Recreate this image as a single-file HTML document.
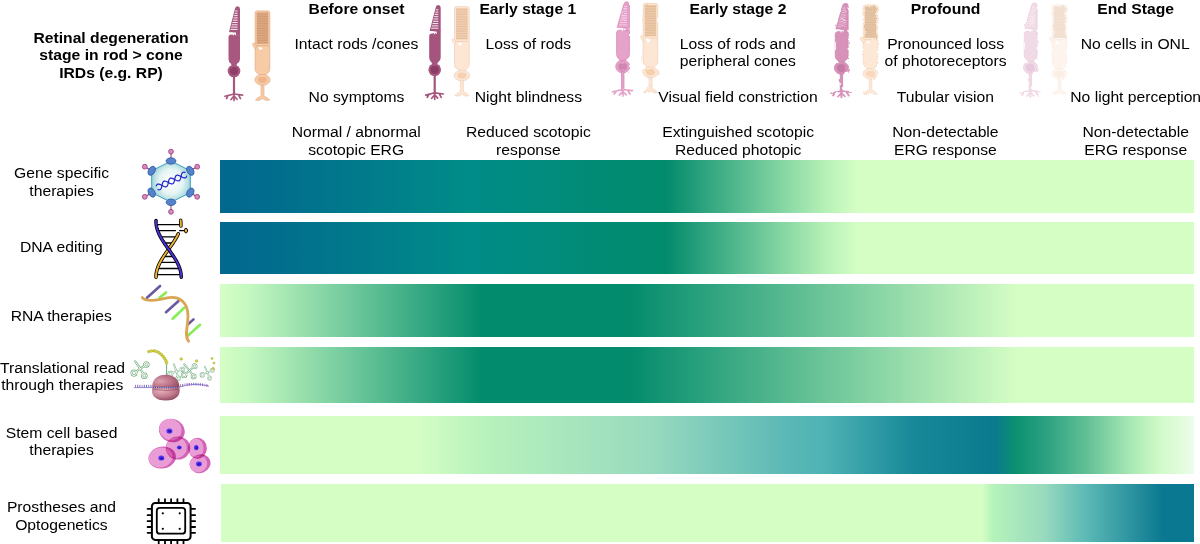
<!DOCTYPE html>
<html><head><meta charset="utf-8">
<style>
html,body{margin:0;padding:0;background:#fff;}
body{width:1200px;height:544px;position:relative;overflow:hidden;font-family:"Liberation Sans",sans-serif;color:#000;}
.t{position:absolute;width:240px;text-align:center;font-size:15.7px;line-height:18px;white-space:nowrap;transform:scaleY(0.96);transform-origin:50% 14px;}
.b{font-weight:bold;}
.bar{position:absolute;left:220px;width:973.5px;}
svg{position:absolute;overflow:visible;}
</style></head><body>
<div class="bar" style="top:160.3px;height:52.5px;background:linear-gradient(90deg,#02688e 0%,#026c8e 5%,#008c88 25.6%,#028b6c 45.8%,#b4f0b6 62%,#d5fec5 65.4%,#d5fec5 100%)"></div>
<div class="bar" style="top:222px;height:52px;background:linear-gradient(90deg,#02688e 0%,#026c8e 5%,#008c88 25.6%,#028b6c 45.8%,#b4f0b6 62%,#d5fec5 65.4%,#d5fec5 100%)"></div>
<div class="bar" style="top:284px;height:52.7px;background:linear-gradient(90deg,#d5fec5 0%,#c4f8c0 3%,#028b6c 27%,#028b6c 42%,#d5fec5 81.9%,#d5fec5 100%)"></div>
<div class="bar" style="top:346.6px;height:56.3px;background:linear-gradient(90deg,#d5fec5 0%,#c4f8c0 3%,#028b6c 27%,#028b6c 42%,#d5fec5 81.9%,#d5fec5 100%)"></div>
<div class="bar" style="top:416px;height:57.7px;background:linear-gradient(90deg,#d5fec5 0%,#d5fec5 20.2%,#b8f2bc 27%,#98dabe 44.2%,#5cb9b5 58%,#4eb2b4 62.1%,#168898 71.3%,#0a7a8e 79.6%,#0a9070 81.6%,#2ea282 85%,#62c096 89%,#a8e8b4 93.5%,#d0fac8 96.5%,#ecfdea 100%)"></div>
<div class="bar" style="top:483.5px;height:58px;left:220.8px;width:973px;background:linear-gradient(90deg,#d5fec5 0%,#d5fec5 78.2%,#b6f3ba 79.3%,#98dabe 84.6%,#5cb9b5 88.9%,#0a7890 96.8%,#0a7890 100%)"></div>

<svg width="1200" height="110" style="left:0;top:0" viewBox="0 0 1200 110">
<defs>
<filter id="w1" x="-20%" y="-5%" width="140%" height="110%"><feTurbulence type="fractalNoise" baseFrequency="0.18" numOctaves="1" seed="3"/><feDisplacementMap in="SourceGraphic" scale="1.8"/></filter>
<filter id="w2" x="-20%" y="-5%" width="140%" height="110%"><feTurbulence type="fractalNoise" baseFrequency="0.16" numOctaves="1" seed="5"/><feDisplacementMap in="SourceGraphic" scale="2.6"/></filter>
<filter id="w3" x="-30%" y="-5%" width="160%" height="110%"><feTurbulence type="fractalNoise" baseFrequency="0.22" numOctaves="2" seed="7"/><feDisplacementMap in="SourceGraphic" scale="3"/></filter>
</defs>
<g transform="translate(0,0)"><g transform="translate(234.5 0) scale(1 1) translate(-234.5 0)"><g fill="#a8577f" stroke="none" stroke-width="0.7">
<path d="M229.2,31.2 L235,8.6 Q235.6,6.3 237.6,6.3 Q240,6.4 240,9 L240,32.6 L229.6,32.6 Q228.8,32.4 229.2,31.2 Z"/>
<g stroke="#fff" stroke-width="0.9" opacity="1">
<path d="M235.28,11.0H237.6M234.69,13.3H237.6M234.10,15.6H237.6M233.51,17.9H237.6M232.92,20.2H237.6M232.33,22.5H237.6M231.74,24.8H237.6M231.15,27.1H237.6M230.56,29.4H237.6"/>
</g>
<rect x="236" y="32" width="4" height="3.6" stroke="none"/>
<path d="M228.5,37.6 Q228.5,34.6 231.2,34.6 Q233.2,34.8 234.2,33.8 L235.6,35.2 L240,35.2 L240,59 Q240,62 237.2,63.6 L236.2,65.8 L231.8,65.8 L230.8,63.6 Q228.5,62 228.5,59 Z"/>
<path d="M227.6,33.4 Q231.2,32 233.5,33.5 Q234.3,34.3 233.5,35.3" fill="none" stroke="#fff" stroke-width="1.1"/>
<circle cx="234" cy="71" r="6.3"/>
<circle cx="234" cy="71" r="4.1" fill="#8e3e68" stroke="none"/>
<rect x="232.9" y="76" width="2.2" height="19"/>
<g stroke="#a8577f" stroke-width="1.7" stroke-linecap="round" fill="none">
<path d="M234,94 L225,96.3 M228.5,95.2 L226.5,98.5 M234,94 L242.6,95.2 M238.5,94.8 L240.5,98.6 M234,94 L234,100.5 M234,96 L231,99.5 M234,96 L237,99.3"/>
</g></g></g></g>
<g transform="translate(0,0)"><g>
<rect x="255.1" y="10.9" width="14.7" height="35.2" rx="2" fill="#f8cba7" stroke="#e2aa82" stroke-width="0.7"/>
<rect x="256.7" y="12.4" width="11.5" height="31.4" fill="#dca780"/>
<path d="M256.6,14.0H268.3M256.6,16.4H268.3M256.6,18.8H268.3M256.6,21.2H268.3M256.6,23.6H268.3M256.6,26.0H268.3M256.6,28.4H268.3M256.6,30.8H268.3M256.6,33.2H268.3M256.6,35.6H268.3M256.6,38.0H268.3M256.6,40.4H268.3M256.6,42.8H268.3" stroke="#c38a62" stroke-width="0.7" opacity="0.6"/>
<path d="M255.1,45.7 L269.8,45.7 L269.8,69 Q269.8,72 267,73.6 L265.2,75.2 L259.8,75.2 L258,73.6 Q255.1,72 255.1,69 Z" fill="#f8cba7" stroke="#e2aa82" stroke-width="0.7"/>
<path d="M256,44.5 Q253.5,42.2 252.6,43.6 Q252.3,46.5 254.8,48.4 L256,49 Z" fill="#f8cba7" stroke="#e2aa82" stroke-width="0.5"/>
<path d="M258.6,47.2 Q260.5,46.6 262.6,48.2 Q261.2,50.4 259.4,49.4 Z" fill="#fff"/>
<path d="M261,84.5 L264,84.5 L264,96 Q268,97.5 269.6,100 Q266,101.6 262.5,98.6 Q259,101.6 255.4,100 Q257,97.5 261,96 Z" fill="#f8cba7" stroke="#e2aa82" stroke-width="0.6"/>
<ellipse cx="262.5" cy="79.8" rx="7.6" ry="5.4" fill="#f8cba7" stroke="#e2aa82" stroke-width="0.7"/>
<ellipse cx="262.5" cy="79.8" rx="4.6" ry="3.1" fill="#efb48c"/>
</g></g>
<g transform="translate(200.7,-1.2)"><g transform="translate(234.5 0) scale(1 1) translate(-234.5 0)"><g fill="#a5557d" stroke="none" stroke-width="0.7">
<path d="M229.2,31.2 L235,8.6 Q235.6,6.3 237.6,6.3 Q240,6.4 240,9 L240,32.6 L229.6,32.6 Q228.8,32.4 229.2,31.2 Z"/>
<g stroke="#fff" stroke-width="0.9" opacity="1">
<path d="M235.28,11.0H237.6M234.69,13.3H237.6M234.10,15.6H237.6M233.51,17.9H237.6M232.92,20.2H237.6M232.33,22.5H237.6M231.74,24.8H237.6M231.15,27.1H237.6M230.56,29.4H237.6"/>
</g>
<rect x="236" y="32" width="4" height="3.6" stroke="none"/>
<path d="M228.5,37.6 Q228.5,34.6 231.2,34.6 Q233.2,34.8 234.2,33.8 L235.6,35.2 L240,35.2 L240,59 Q240,62 237.2,63.6 L236.2,65.8 L231.8,65.8 L230.8,63.6 Q228.5,62 228.5,59 Z"/>
<path d="M227.6,33.4 Q231.2,32 233.5,33.5 Q234.3,34.3 233.5,35.3" fill="none" stroke="#fff" stroke-width="1.1"/>
<circle cx="234" cy="71" r="6.3"/>
<circle cx="234" cy="71" r="4.1" fill="#8a3c64" stroke="none"/>
<rect x="232.9" y="76" width="2.2" height="19"/>
<g stroke="#a5557d" stroke-width="1.7" stroke-linecap="round" fill="none">
<path d="M234,94 L225,96.3 M228.5,95.2 L226.5,98.5 M234,94 L242.6,95.2 M238.5,94.8 L240.5,98.6 M234,94 L234,100.5 M234,96 L231,99.5 M234,96 L237,99.3"/>
</g></g></g></g>
<g transform="translate(199.4,-4.3)" filter="url(#w1)"><g>
<rect x="255.1" y="10.9" width="14.7" height="35.2" rx="2" fill="#fde6d4" stroke="#efcfb6" stroke-width="0.7"/>
<rect x="256.7" y="12.4" width="11.5" height="31.4" fill="#efcdb0"/>
<path d="M256.6,14.0H268.3M256.6,16.4H268.3M256.6,18.8H268.3M256.6,21.2H268.3M256.6,23.6H268.3M256.6,26.0H268.3M256.6,28.4H268.3M256.6,30.8H268.3M256.6,33.2H268.3M256.6,35.6H268.3M256.6,38.0H268.3M256.6,40.4H268.3M256.6,42.8H268.3" stroke="#d8ae8a" stroke-width="0.7" opacity="0.6"/>
<path d="M255.1,45.7 L269.8,45.7 L269.8,69 Q269.8,72 267,73.6 L265.2,75.2 L259.8,75.2 L258,73.6 Q255.1,72 255.1,69 Z" fill="#fde6d4" stroke="#efcfb6" stroke-width="0.7"/>
<path d="M256,44.5 Q253.5,42.2 252.6,43.6 Q252.3,46.5 254.8,48.4 L256,49 Z" fill="#fde6d4" stroke="#efcfb6" stroke-width="0.5"/>
<path d="M258.6,47.2 Q260.5,46.6 262.6,48.2 Q261.2,50.4 259.4,49.4 Z" fill="#fff"/>
<path d="M261,84.5 L264,84.5 L264,96 Q268,97.5 269.6,100 Q266,101.6 262.5,98.6 Q259,101.6 255.4,100 Q257,97.5 261,96 Z" fill="#fde6d4" stroke="#efcfb6" stroke-width="0.6"/>
<ellipse cx="262.5" cy="79.8" rx="7.6" ry="5.4" fill="#fde6d4" stroke="#efcfb6" stroke-width="0.7"/>
<ellipse cx="262.5" cy="79.8" rx="4.6" ry="3.1" fill="#f6d0b0"/>
</g></g>
<g transform="translate(388.8,-4.5)" filter="url(#w2)"><g transform="translate(234.5 0) scale(1.12 1) translate(-234.5 0)"><g fill="#e6a2c9" stroke="#d888b8" stroke-width="0.7">
<path d="M229.2,31.2 L235,8.6 Q235.6,6.3 237.6,6.3 Q240,6.4 240,9 L240,32.6 L229.6,32.6 Q228.8,32.4 229.2,31.2 Z"/>
<g stroke="#fff" stroke-width="0.9" opacity="0.6">
<path d="M235.28,11.0H237.6M234.69,13.3H237.6M234.10,15.6H237.6M233.51,17.9H237.6M232.92,20.2H237.6M232.33,22.5H237.6M231.74,24.8H237.6M231.15,27.1H237.6M230.56,29.4H237.6"/>
</g>
<rect x="236" y="32" width="4" height="3.6" stroke="none"/>
<path d="M228.5,37.6 Q228.5,34.6 231.2,34.6 Q233.2,34.8 234.2,33.8 L235.6,35.2 L240,35.2 L240,59 Q240,62 237.2,63.6 L236.2,65.8 L231.8,65.8 L230.8,63.6 Q228.5,62 228.5,59 Z"/>
<path d="M227.6,33.4 Q231.2,32 233.5,33.5 Q234.3,34.3 233.5,35.3" fill="none" stroke="#fff" stroke-width="1.1"/>
<circle cx="234" cy="71" r="6.3"/>
<circle cx="234" cy="71" r="4.1" fill="#d286b2" stroke="none"/>
<rect x="232.9" y="76" width="2.2" height="19"/>
<g stroke="#e6a2c9" stroke-width="1.7" stroke-linecap="round" fill="none">
<path d="M234,94 L225,96.3 M228.5,95.2 L226.5,98.5 M234,94 L242.6,95.2 M238.5,94.8 L240.5,98.6 M234,94 L234,100.5 M234,96 L231,99.5 M234,96 L237,99.3"/>
</g></g></g></g>
<g transform="translate(388,-7.5)" filter="url(#w2)"><g>
<rect x="255.1" y="10.9" width="14.7" height="35.2" rx="2" fill="#fde6d4" stroke="#efcfb6" stroke-width="0.7"/>
<rect x="256.7" y="12.4" width="11.5" height="31.4" fill="#eccaa8"/>
<path d="M256.6,14.0H268.3M256.6,16.4H268.3M256.6,18.8H268.3M256.6,21.2H268.3M256.6,23.6H268.3M256.6,26.0H268.3M256.6,28.4H268.3M256.6,30.8H268.3M256.6,33.2H268.3M256.6,35.6H268.3M256.6,38.0H268.3M256.6,40.4H268.3M256.6,42.8H268.3" stroke="#d4a884" stroke-width="0.7" opacity="0.6"/>
<path d="M255.1,45.7 L269.8,45.7 L269.8,69 Q269.8,72 267,73.6 L265.2,75.2 L259.8,75.2 L258,73.6 Q255.1,72 255.1,69 Z" fill="#fde6d4" stroke="#efcfb6" stroke-width="0.7"/>
<path d="M256,44.5 Q253.5,42.2 252.6,43.6 Q252.3,46.5 254.8,48.4 L256,49 Z" fill="#fde6d4" stroke="#efcfb6" stroke-width="0.5"/>
<path d="M258.6,47.2 Q260.5,46.6 262.6,48.2 Q261.2,50.4 259.4,49.4 Z" fill="#fff"/>
<path d="M261,84.5 L264,84.5 L264,96 Q268,97.5 269.6,100 Q266,101.6 262.5,98.6 Q259,101.6 255.4,100 Q257,97.5 261,96 Z" fill="#fde6d4" stroke="#efcfb6" stroke-width="0.6"/>
<ellipse cx="262.5" cy="79.8" rx="7.6" ry="5.4" fill="#fde6d4" stroke="#efcfb6" stroke-width="0.7"/>
<ellipse cx="262.5" cy="79.8" rx="4.6" ry="3.1" fill="#f6cfae"/>
</g></g>
<g transform="translate(607.5,-3)" filter="url(#w3)"><g transform="translate(234.5 0) scale(1.12 1) translate(-234.5 0)"><g fill="#d892ba" stroke="#cc86ae" stroke-width="0.7">
<path d="M229.2,31.2 L235,8.6 Q235.6,6.3 237.6,6.3 Q240,6.4 240,9 L240,32.6 L229.6,32.6 Q228.8,32.4 229.2,31.2 Z"/>
<g stroke="#fff" stroke-width="0.9" opacity="0.5">
<path d="M235.28,11.0H237.6M234.69,13.3H237.6M234.10,15.6H237.6M233.51,17.9H237.6M232.92,20.2H237.6M232.33,22.5H237.6M231.74,24.8H237.6M231.15,27.1H237.6M230.56,29.4H237.6"/>
</g>
<rect x="236" y="32" width="4" height="3.6" stroke="none"/>
<path d="M228.5,37.6 Q228.5,34.6 231.2,34.6 Q233.2,34.8 234.2,33.8 L235.6,35.2 L240,35.2 L240,59 Q240,62 237.2,63.6 L236.2,65.8 L231.8,65.8 L230.8,63.6 Q228.5,62 228.5,59 Z"/>
<path d="M227.6,33.4 Q231.2,32 233.5,33.5 Q234.3,34.3 233.5,35.3" fill="none" stroke="#fff" stroke-width="1.1"/>
<circle cx="234" cy="71" r="6.3"/>
<circle cx="234" cy="71" r="4.1" fill="#c47ca6" stroke="none"/>
<rect x="232.9" y="76" width="2.2" height="19"/>
<g stroke="#d892ba" stroke-width="1.7" stroke-linecap="round" fill="none">
<path d="M234,94 L225,96.3 M228.5,95.2 L226.5,98.5 M234,94 L242.6,95.2 M238.5,94.8 L240.5,98.6 M234,94 L234,100.5 M234,96 L231,99.5 M234,96 L237,99.3"/>
</g></g></g></g>
<g transform="translate(608,-6)" filter="url(#w3)"><g>
<rect x="255.1" y="10.9" width="14.7" height="35.2" rx="2" fill="#fde8d6" stroke="#e6c0a2" stroke-width="0.7" stroke-dasharray="1 1.2"/>
<rect x="256.7" y="12.4" width="11.5" height="31.4" fill="#e6c6a6"/>
<path d="M256.6,14.0H268.3M256.6,16.4H268.3M256.6,18.8H268.3M256.6,21.2H268.3M256.6,23.6H268.3M256.6,26.0H268.3M256.6,28.4H268.3M256.6,30.8H268.3M256.6,33.2H268.3M256.6,35.6H268.3M256.6,38.0H268.3M256.6,40.4H268.3M256.6,42.8H268.3" stroke="#d0aa88" stroke-width="0.7" opacity="0.6"/>
<path d="M255.1,45.7 L269.8,45.7 L269.8,69 Q269.8,72 267,73.6 L265.2,75.2 L259.8,75.2 L258,73.6 Q255.1,72 255.1,69 Z" fill="#fde8d6" stroke="#e6c0a2" stroke-width="0.7" stroke-dasharray="1 1.2"/>
<path d="M256,44.5 Q253.5,42.2 252.6,43.6 Q252.3,46.5 254.8,48.4 L256,49 Z" fill="#fde8d6" stroke="#e6c0a2" stroke-width="0.5"/>
<path d="M258.6,47.2 Q260.5,46.6 262.6,48.2 Q261.2,50.4 259.4,49.4 Z" fill="#fff"/>
<path d="M261,84.5 L264,84.5 L264,96 Q268,97.5 269.6,100 Q266,101.6 262.5,98.6 Q259,101.6 255.4,100 Q257,97.5 261,96 Z" fill="#fde8d6" stroke="#e6c0a2" stroke-width="0.6" stroke-dasharray="1 1.2"/>
<ellipse cx="262.5" cy="79.8" rx="7.6" ry="5.4" fill="#fde8d6" stroke="#e6c0a2" stroke-width="0.7" stroke-dasharray="1 1.2"/>
<ellipse cx="262.5" cy="79.8" rx="4.6" ry="3.1" fill="#f8d8bc"/>
</g></g>
<g transform="translate(796.5,-3.5)" filter="url(#w3)"><g transform="translate(234.5 0) scale(1.12 1) translate(-234.5 0)"><g fill="#f0dae6" stroke="#ecd0e0" stroke-width="0.7">
<path d="M229.2,31.2 L235,8.6 Q235.6,6.3 237.6,6.3 Q240,6.4 240,9 L240,32.6 L229.6,32.6 Q228.8,32.4 229.2,31.2 Z"/>
<g stroke="#fff" stroke-width="0.9" opacity="0.5">
<path d="M235.28,11.0H237.6M234.69,13.3H237.6M234.10,15.6H237.6M233.51,17.9H237.6M232.92,20.2H237.6M232.33,22.5H237.6M231.74,24.8H237.6M231.15,27.1H237.6M230.56,29.4H237.6"/>
</g>
<rect x="236" y="32" width="4" height="3.6" stroke="none"/>
<path d="M228.5,37.6 Q228.5,34.6 231.2,34.6 Q233.2,34.8 234.2,33.8 L235.6,35.2 L240,35.2 L240,59 Q240,62 237.2,63.6 L236.2,65.8 L231.8,65.8 L230.8,63.6 Q228.5,62 228.5,59 Z"/>
<path d="M227.6,33.4 Q231.2,32 233.5,33.5 Q234.3,34.3 233.5,35.3" fill="none" stroke="#fff" stroke-width="1.1"/>
<circle cx="234" cy="71" r="6.3"/>
<circle cx="234" cy="71" r="4.1" fill="#e6cadb" stroke="none"/>
<rect x="232.9" y="76" width="2.2" height="19"/>
<g stroke="#f0dae6" stroke-width="1.7" stroke-linecap="round" fill="none">
<path d="M234,94 L225,96.3 M228.5,95.2 L226.5,98.5 M234,94 L242.6,95.2 M238.5,94.8 L240.5,98.6 M234,94 L234,100.5 M234,96 L231,99.5 M234,96 L237,99.3"/>
</g></g></g></g>
<g transform="translate(797,-6)" filter="url(#w3)"><g>
<rect x="255.1" y="10.9" width="14.7" height="35.2" rx="2" fill="#fdf4ee" stroke="#f6e4d8" stroke-width="0.7" stroke-dasharray="1 1.2"/>
<rect x="256.7" y="12.4" width="11.5" height="31.4" fill="#f4e2d2"/>
<path d="M256.6,14.0H268.3M256.6,16.4H268.3M256.6,18.8H268.3M256.6,21.2H268.3M256.6,23.6H268.3M256.6,26.0H268.3M256.6,28.4H268.3M256.6,30.8H268.3M256.6,33.2H268.3M256.6,35.6H268.3M256.6,38.0H268.3M256.6,40.4H268.3M256.6,42.8H268.3" stroke="#ecd6c4" stroke-width="0.7" opacity="0.6"/>
<path d="M255.1,45.7 L269.8,45.7 L269.8,69 Q269.8,72 267,73.6 L265.2,75.2 L259.8,75.2 L258,73.6 Q255.1,72 255.1,69 Z" fill="#fdf4ee" stroke="#f6e4d8" stroke-width="0.7" stroke-dasharray="1 1.2"/>
<path d="M256,44.5 Q253.5,42.2 252.6,43.6 Q252.3,46.5 254.8,48.4 L256,49 Z" fill="#fdf4ee" stroke="#f6e4d8" stroke-width="0.5"/>
<path d="M258.6,47.2 Q260.5,46.6 262.6,48.2 Q261.2,50.4 259.4,49.4 Z" fill="#fff"/>
<path d="M261,84.5 L264,84.5 L264,96 Q268,97.5 269.6,100 Q266,101.6 262.5,98.6 Q259,101.6 255.4,100 Q257,97.5 261,96 Z" fill="#fdf4ee" stroke="#f6e4d8" stroke-width="0.6" stroke-dasharray="1 1.2"/>
<ellipse cx="262.5" cy="79.8" rx="7.6" ry="5.4" fill="#fdf4ee" stroke="#f6e4d8" stroke-width="0.7" stroke-dasharray="1 1.2"/>
<ellipse cx="262.5" cy="79.8" rx="4.6" ry="3.1" fill="#fbefe4"/>
</g></g>
</svg><svg width="1200" height="544" style="left:0;top:0" viewBox="0 0 1200 544">
<defs>
<radialGradient id="cap" cx="50%" cy="50%" r="55%"><stop offset="0" stop-color="#ffffff"/><stop offset="0.55" stop-color="#e6f4f4"/><stop offset="1" stop-color="#8fcfd6"/></radialGradient>
<radialGradient id="ribo" cx="30%" cy="50%" r="80%"><stop offset="0" stop-color="#dca2b2"/><stop offset="0.5" stop-color="#be7488"/><stop offset="1" stop-color="#8e4660"/></radialGradient>
<radialGradient id="ribo2" cx="35%" cy="25%" r="80%"><stop offset="0" stop-color="#e4b0bc"/><stop offset="0.55" stop-color="#c47e90"/><stop offset="1" stop-color="#8c4660"/></radialGradient>
</defs>
<!-- gene specific: capsid -->
<g>
<g stroke="#a0407c" stroke-width="1.1">
<line x1="171" y1="161" x2="171" y2="152"/><line x1="171" y1="202" x2="171" y2="211"/>
<line x1="190" y1="171" x2="196.5" y2="167"/><line x1="190" y1="192.5" x2="196.5" y2="196.5"/>
<line x1="152" y1="171" x2="145.5" y2="167"/><line x1="152" y1="192.5" x2="145.5" y2="196.5"/>
</g>
<g fill="#d48cc4" stroke="#a0407c" stroke-width="0.9">
<circle cx="171" cy="151.6" r="2.4"/><circle cx="171" cy="211.8" r="2.4"/>
<circle cx="197.2" cy="166.7" r="2.4"/><circle cx="197.2" cy="196.8" r="2.4"/>
<circle cx="144.8" cy="166.7" r="2.4"/><circle cx="144.8" cy="196.8" r="2.4"/>
</g>
<path d="M171,161 L190.3,170.8 L190.3,192.6 L171,202.3 L151.7,192.6 L151.7,170.8 Z" fill="url(#cap)" stroke="#2a96b4" stroke-width="0.9"/>
<g fill="#5582c8" stroke="#2a58a4" stroke-width="0.8">
<ellipse cx="171" cy="161" rx="4.9" ry="3.2"/><ellipse cx="171" cy="202.3" rx="4.9" ry="3.2"/>
<ellipse cx="190.3" cy="170.8" rx="4.9" ry="3.2" transform="rotate(60 190.3 170.8)"/>
<ellipse cx="190.3" cy="192.6" rx="4.9" ry="3.2" transform="rotate(-60 190.3 192.6)"/>
<ellipse cx="151.7" cy="170.8" rx="4.9" ry="3.2" transform="rotate(-60 151.7 170.8)"/>
<ellipse cx="151.7" cy="192.6" rx="4.9" ry="3.2" transform="rotate(60 151.7 192.6)"/>
</g>
<g fill="none" stroke="#2222cc" stroke-width="1.2" transform="translate(171.5 181) rotate(-25)">
<path d="M-16.20,-1.65 L-15.75,-2.12 L-15.30,-2.50 L-14.85,-2.78 L-14.40,-2.95 L-13.95,-3.00 L-13.50,-2.92 L-13.05,-2.73 L-12.60,-2.43 L-12.15,-2.02 L-11.70,-1.54 L-11.25,-0.99 L-10.80,-0.40 L-10.35,0.20 L-9.90,0.80 L-9.45,1.36 L-9.00,1.87 L-8.55,2.30 L-8.10,2.64 L-7.65,2.87 L-7.20,2.99 L-6.75,2.98 L-6.30,2.85 L-5.85,2.61 L-5.40,2.26 L-4.95,1.82 L-4.50,1.30 L-4.05,0.73 L-3.60,0.13 L-3.15,-0.47 L-2.70,-1.05 L-2.25,-1.60 L-1.80,-2.07 L-1.35,-2.47 L-0.90,-2.76 L-0.45,-2.94 L0.00,-3.00 L0.45,-2.94 L0.90,-2.76 L1.35,-2.47 L1.80,-2.07 L2.25,-1.60 L2.70,-1.05 L3.15,-0.47 L3.60,0.13 L4.05,0.73 L4.50,1.30 L4.95,1.82 L5.40,2.26 L5.85,2.61 L6.30,2.85 L6.75,2.98 L7.20,2.99 L7.65,2.87 L8.10,2.64 L8.55,2.30 L9.00,1.87 L9.45,1.36 L9.90,0.80 L10.35,0.20 L10.80,-0.40 L11.25,-0.99 L11.70,-1.54 L12.15,-2.02 L12.60,-2.43 L13.05,-2.73 L13.50,-2.92 L13.95,-3.00 L14.40,-2.95 L14.85,-2.78 L15.30,-2.50 L15.75,-2.12 L16.20,-1.65"/>
<path d="M-16.20,1.65 L-15.75,2.12 L-15.30,2.50 L-14.85,2.78 L-14.40,2.95 L-13.95,3.00 L-13.50,2.92 L-13.05,2.73 L-12.60,2.43 L-12.15,2.02 L-11.70,1.54 L-11.25,0.99 L-10.80,0.40 L-10.35,-0.20 L-9.90,-0.80 L-9.45,-1.36 L-9.00,-1.87 L-8.55,-2.30 L-8.10,-2.64 L-7.65,-2.87 L-7.20,-2.99 L-6.75,-2.98 L-6.30,-2.85 L-5.85,-2.61 L-5.40,-2.26 L-4.95,-1.82 L-4.50,-1.30 L-4.05,-0.73 L-3.60,-0.13 L-3.15,0.47 L-2.70,1.05 L-2.25,1.60 L-1.80,2.07 L-1.35,2.47 L-0.90,2.76 L-0.45,2.94 L0.00,3.00 L0.45,2.94 L0.90,2.76 L1.35,2.47 L1.80,2.07 L2.25,1.60 L2.70,1.05 L3.15,0.47 L3.60,-0.13 L4.05,-0.73 L4.50,-1.30 L4.95,-1.82 L5.40,-2.26 L5.85,-2.61 L6.30,-2.85 L6.75,-2.98 L7.20,-2.99 L7.65,-2.87 L8.10,-2.64 L8.55,-2.30 L9.00,-1.87 L9.45,-1.36 L9.90,-0.80 L10.35,-0.20 L10.80,0.40 L11.25,0.99 L11.70,1.54 L12.15,2.02 L12.60,2.43 L13.05,2.73 L13.50,2.92 L13.95,3.00 L14.40,2.95 L14.85,2.78 L15.30,2.50 L15.75,2.12 L16.20,1.65"/>
</g>
</g>
<!-- DNA editing -->
<g stroke-linecap="round" fill="none">
<path d="M156.2,224.6H181.0M157.6,230.6H175.5M179.5,230.6H184.5M160.4,236.8H176.8M164.2,243.0H173.0M163.6,256.5H173.6M160.1,262.4H177.1M157.4,268.5H179.8M156.1,274.6H181.1" stroke="#000" stroke-width="1.3"/>
<path d="M156.00,277.20 L156.02,276.12 L156.08,275.03 L156.19,273.94 L156.34,272.86 L156.55,271.77 L156.80,270.69 L157.09,269.61 L157.42,268.52 L157.80,267.44 L158.22,266.35 L158.68,265.26 L159.17,264.18 L159.71,263.09 L160.27,262.01 L160.87,260.93 L161.49,259.84 L162.14,258.75 L162.82,257.67 L163.52,256.58 L164.23,255.50 L164.97,254.41 L165.72,253.33 L166.47,252.25 L167.24,251.16 L168.01,250.07 L168.79,248.99 L169.56,247.91 L170.33,246.82 L171.09,245.74 L171.84,244.65 L172.59,243.56 L173.31,242.48 L174.02,241.40 L174.71,240.31 L175.37,239.23 L176.01,238.14 L176.62,237.06 L177.20,235.97 L177.75,234.89 L178.27,233.80" stroke="#000" stroke-width="3.5"/>
<path d="M156.00,277.20 L156.02,276.12 L156.08,275.03 L156.19,273.94 L156.34,272.86 L156.55,271.77 L156.80,270.69 L157.09,269.61 L157.42,268.52 L157.80,267.44 L158.22,266.35 L158.68,265.26 L159.17,264.18 L159.71,263.09 L160.27,262.01 L160.87,260.93 L161.49,259.84 L162.14,258.75 L162.82,257.67 L163.52,256.58 L164.23,255.50 L164.97,254.41 L165.72,253.33 L166.47,252.25 L167.24,251.16 L168.01,250.07 L168.79,248.99 L169.56,247.91 L170.33,246.82 L171.09,245.74 L171.84,244.65 L172.59,243.56 L173.31,242.48 L174.02,241.40 L174.71,240.31 L175.37,239.23 L176.01,238.14 L176.62,237.06 L177.20,235.97 L177.75,234.89 L178.27,233.80" stroke="#f2b430" stroke-width="1.9"/>
<path d="M156.02,220.60 L156.01,222.01 L156.08,223.43 L156.23,224.84 L156.45,226.26 L156.76,227.67 L157.15,229.09 L157.60,230.50 L158.13,231.92 L158.72,233.33 L159.38,234.75 L160.10,236.16 L160.87,237.58 L161.69,239.00 L162.55,240.41 L163.46,241.82 L164.40,243.24 L165.36,244.66 L166.34,246.07 L167.34,247.48 L168.35,248.90 L169.36,250.31 L170.36,251.73 L171.36,253.14 L172.33,254.56 L173.28,255.97 L174.20,257.39 L175.09,258.81 L175.93,260.22 L176.73,261.63 L177.47,263.05 L178.16,264.46 L178.79,265.88 L179.35,267.29 L179.84,268.71 L180.26,270.12 L180.60,271.54 L180.87,272.95 L181.06,274.37 L181.17,275.78 L181.20,277.20" stroke="#000" stroke-width="3.5"/>
<path d="M156.02,220.60 L156.01,222.01 L156.08,223.43 L156.23,224.84 L156.45,226.26 L156.76,227.67 L157.15,229.09 L157.60,230.50 L158.13,231.92 L158.72,233.33 L159.38,234.75 L160.10,236.16 L160.87,237.58 L161.69,239.00 L162.55,240.41 L163.46,241.82 L164.40,243.24 L165.36,244.66 L166.34,246.07 L167.34,247.48 L168.35,248.90 L169.36,250.31 L170.36,251.73 L171.36,253.14 L172.33,254.56 L173.28,255.97 L174.20,257.39 L175.09,258.81 L175.93,260.22 L176.73,261.63 L177.47,263.05 L178.16,264.46 L178.79,265.88 L179.35,267.29 L179.84,268.71 L180.26,270.12 L180.60,271.54 L180.87,272.95 L181.06,274.37 L181.17,275.78 L181.20,277.20" stroke="#4a30dc" stroke-width="1.9"/>
<path d="M180.7,220.2 L180.9,226" stroke="#000" stroke-width="3.5"/>
<path d="M180.7,220.2 L180.9,226" stroke="#f2b430" stroke-width="1.9"/>
<ellipse cx="186" cy="230.6" rx="1.6" ry="2.4" fill="#f2b430" stroke="#000" stroke-width="0.9"/>
</g>
<!-- RNA -->
<g stroke-linecap="round" fill="none">
<g stroke="#6a58a2" stroke-width="2.6">
<line x1="147" y1="297.8" x2="160.1" y2="286"/><line x1="166" y1="312.2" x2="178.5" y2="301"/><line x1="187.5" y1="324.8" x2="193.5" y2="319.4"/>
</g>
<g stroke="#84ee54" stroke-width="2.6">
<line x1="159.5" y1="297.7" x2="166" y2="292.4"/><line x1="172.6" y1="318.8" x2="184" y2="308"/><line x1="188.1" y1="335.5" x2="200.1" y2="324.8"/>
</g>
<path d="M142.3,297.6 C146,302 158,300.5 166,298.2 C178,295 188,301 188,316 C188,327 184,336 188.6,341.3" stroke="#d8a654" stroke-width="2.8"/>
</g>
<!-- translational -->
<g>
<g transform="translate(140.3,368.7) rotate(0) scale(0.95)"><path d="M0,0L-5.45,-7.78M0,0L4.51,-3.15M8.69,-4.47a2.3,2.3 0 1 0 -4.60,0a2.3,2.3 0 1 0 4.60,0M0,0L-4.51,3.15M-4.04,4.65a2.6,2.6 0 1 0 -5.20,0a2.6,2.6 0 1 0 5.20,0M0,0L3.10,5.37M6.55,7.36a2.3,2.3 0 1 0 -4.60,0a2.3,2.3 0 1 0 4.60,0" fill="none" stroke="#6aa878" stroke-width="2.2" stroke-linecap="round"/><path d="M0,0L-5.45,-7.78M0,0L4.51,-3.15M8.69,-4.47a2.3,2.3 0 1 0 -4.60,0a2.3,2.3 0 1 0 4.60,0M0,0L-4.51,3.15M-4.04,4.65a2.6,2.6 0 1 0 -5.20,0a2.6,2.6 0 1 0 5.20,0M0,0L3.10,5.37M6.55,7.36a2.3,2.3 0 1 0 -4.60,0a2.3,2.3 0 1 0 4.60,0" fill="none" stroke="#fff" stroke-width="1.0" stroke-linecap="round"/></g>
<g transform="translate(176.5,371.5) rotate(15) scale(0.8)"><path d="M0,0L-5.45,-7.78M0,0L4.51,-3.15M8.69,-4.47a2.3,2.3 0 1 0 -4.60,0a2.3,2.3 0 1 0 4.60,0M0,0L-4.51,3.15M-4.04,4.65a2.6,2.6 0 1 0 -5.20,0a2.6,2.6 0 1 0 5.20,0M0,0L3.10,5.37M6.55,7.36a2.3,2.3 0 1 0 -4.60,0a2.3,2.3 0 1 0 4.60,0" fill="none" stroke="#6aa878" stroke-width="2.2" stroke-linecap="round"/><path d="M0,0L-5.45,-7.78M0,0L4.51,-3.15M8.69,-4.47a2.3,2.3 0 1 0 -4.60,0a2.3,2.3 0 1 0 4.60,0M0,0L-4.51,3.15M-4.04,4.65a2.6,2.6 0 1 0 -5.20,0a2.6,2.6 0 1 0 5.20,0M0,0L3.10,5.37M6.55,7.36a2.3,2.3 0 1 0 -4.60,0a2.3,2.3 0 1 0 4.60,0" fill="none" stroke="#fff" stroke-width="1.0" stroke-linecap="round"/></g>
<g transform="translate(189.5,370.5) rotate(-5) scale(0.85)"><path d="M0,0L-5.45,-7.78M0,0L4.51,-3.15M8.69,-4.47a2.3,2.3 0 1 0 -4.60,0a2.3,2.3 0 1 0 4.60,0M0,0L-4.51,3.15M-4.04,4.65a2.6,2.6 0 1 0 -5.20,0a2.6,2.6 0 1 0 5.20,0M0,0L3.10,5.37M6.55,7.36a2.3,2.3 0 1 0 -4.60,0a2.3,2.3 0 1 0 4.60,0" fill="none" stroke="#6aa878" stroke-width="2.2" stroke-linecap="round"/><path d="M0,0L-5.45,-7.78M0,0L4.51,-3.15M8.69,-4.47a2.3,2.3 0 1 0 -4.60,0a2.3,2.3 0 1 0 4.60,0M0,0L-4.51,3.15M-4.04,4.65a2.6,2.6 0 1 0 -5.20,0a2.6,2.6 0 1 0 5.20,0M0,0L3.10,5.37M6.55,7.36a2.3,2.3 0 1 0 -4.60,0a2.3,2.3 0 1 0 4.60,0" fill="none" stroke="#fff" stroke-width="1.0" stroke-linecap="round"/></g>
<g transform="translate(207.5,372.5) rotate(10) scale(0.7)"><path d="M0,0L-5.45,-7.78M0,0L4.51,-3.15M8.69,-4.47a2.3,2.3 0 1 0 -4.60,0a2.3,2.3 0 1 0 4.60,0M0,0L-4.51,3.15M-4.04,4.65a2.6,2.6 0 1 0 -5.20,0a2.6,2.6 0 1 0 5.20,0M0,0L3.10,5.37M6.55,7.36a2.3,2.3 0 1 0 -4.60,0a2.3,2.3 0 1 0 4.60,0" fill="none" stroke="#6aa878" stroke-width="2.2" stroke-linecap="round"/><path d="M0,0L-5.45,-7.78M0,0L4.51,-3.15M8.69,-4.47a2.3,2.3 0 1 0 -4.60,0a2.3,2.3 0 1 0 4.60,0M0,0L-4.51,3.15M-4.04,4.65a2.6,2.6 0 1 0 -5.20,0a2.6,2.6 0 1 0 5.20,0M0,0L3.10,5.37M6.55,7.36a2.3,2.3 0 1 0 -4.60,0a2.3,2.3 0 1 0 4.60,0" fill="none" stroke="#fff" stroke-width="1.0" stroke-linecap="round"/></g>
<path d="M166.6,363 L166.6,376" stroke="#6aa878" stroke-width="1"/>
<g fill="#dcd83c" stroke="#9a9818" stroke-width="0.45"><circle cx="148.8" cy="351.6" r="1.35"/><circle cx="151.4" cy="351" r="1.35"/><circle cx="154" cy="350.9" r="1.35"/><circle cx="156.6" cy="351.6" r="1.35"/><circle cx="159" cy="352.8" r="1.35"/><circle cx="161.2" cy="354.4" r="1.35"/><circle cx="163" cy="356.3" r="1.35"/><circle cx="164.5" cy="358.4" r="1.35"/><circle cx="165.8" cy="360.6" r="1.35"/><circle cx="166.6" cy="362.8" r="1.35"/><circle cx="181.2" cy="359" r="1.3"/><circle cx="196.6" cy="361" r="1.3"/><circle cx="212" cy="358.4" r="1"/><circle cx="214" cy="363" r="1"/><circle cx="213.2" cy="368.5" r="1.1"/></g>
<path d="M134,387.6 L152,387.6" fill="none" stroke="#8a7ac8" stroke-width="0.9"/>
<path d="M179,387.2 Q194,382 209,386.2" fill="none" stroke="#8a7ac8" stroke-width="0.9"/>
<g stroke-width="1"><path d="M135.5,384.8v2.6" stroke="#c070a8"/><path d="M137.7,384.8v2.6" stroke="#8070c8"/><path d="M139.9,384.8v2.6" stroke="#6a80d0"/><path d="M142.1,384.8v2.6" stroke="#c888b8"/><path d="M144.3,384.8v2.6" stroke="#7060c0"/><path d="M146.5,384.8v2.6" stroke="#5a7ad0"/><path d="M148.7,384.8v2.6" stroke="#c070a8"/><path d="M150.9,384.8v2.6" stroke="#7868c8"/><path d="M180.5,384.32v2.6" stroke="#d070a0"/><path d="M182.7,383.92v2.6" stroke="#6a70c8"/><path d="M184.9,383.56v2.6" stroke="#c888b8"/><path d="M187.1,383.25v2.6" stroke="#5a6ad0"/><path d="M189.3,383.01v2.6" stroke="#7060c0"/><path d="M191.5,382.86v2.6" stroke="#c070a8"/><path d="M193.7,382.80v2.6" stroke="#5a7ad0"/><path d="M195.9,382.84v2.6" stroke="#7868c8"/><path d="M198.1,382.96v2.6" stroke="#c070a8"/><path d="M200.3,383.18v2.6" stroke="#6a70c8"/><path d="M202.5,383.47v2.6" stroke="#8070c8"/><path d="M204.7,383.82v2.6" stroke="#c888b8"/><path d="M206.9,384.21v2.6" stroke="#7060c0"/></g>
<path d="M152.3,387.5 C151.8,379.5 157.5,374.8 165.8,374.8 C174,374.8 179.6,380 179.4,387.5 Z" fill="url(#ribo)"/>
<path d="M152.3,387.5 C150.5,395.5 155.5,400.6 165.8,400.6 C176,400.6 181,395.5 179.4,387.5 Z" fill="url(#ribo2)"/>
<path d="M152.6,387.6 H179.2" stroke="#4058b0" stroke-width="1.5" stroke-dasharray="1.2 1"/>
<path d="M153,389.2 Q166,392 179,389.2" fill="none" stroke="#9a4860" stroke-width="1" opacity="0.6"/>
</g>
<!-- stem cells -->
<g>
<g style="mix-blend-mode:multiply" transform="rotate(25 171.8 430.5)"><ellipse cx="171.8" cy="430.5" rx="13.2" ry="11.5" fill="#d464b6"/><ellipse cx="170.2" cy="430.2" rx="11.4" ry="10.5" fill="#ea9cd6"/></g>
<g style="mix-blend-mode:multiply" transform="rotate(-10 162.2 457.6)"><ellipse cx="162.2" cy="457.6" rx="13.8" ry="10.9" fill="#d464b6"/><ellipse cx="160.6" cy="457.3" rx="12.0" ry="9.9" fill="#ea9cd6"/></g>
<g style="mix-blend-mode:multiply" transform="rotate(-20 200.1 463.7)"><ellipse cx="200.1" cy="463.7" rx="10.6" ry="9.3" fill="#d464b6"/><ellipse cx="198.5" cy="463.4" rx="8.8" ry="8.3" fill="#ea9cd6"/></g>
<g style="mix-blend-mode:multiply" transform="rotate(0 197.5 448.3)"><ellipse cx="197.5" cy="448.3" rx="9.4" ry="10.6" fill="#d464b6"/><ellipse cx="195.9" cy="448.0" rx="7.6" ry="9.6" fill="#ea9cd6"/></g>
<g style="mix-blend-mode:multiply" transform="rotate(0 178.0 448.0)"><ellipse cx="178.0" cy="448.0" rx="12.2" ry="11.5" fill="#d464b6"/><ellipse cx="176.4" cy="447.7" rx="10.4" ry="10.5" fill="#ea9cd6"/></g>
<ellipse cx="169.4" cy="431.0" rx="3.0" ry="2.6" fill="#5034f0"/><ellipse cx="169.7" cy="431.3" rx="1.65" ry="1.30" fill="#2c10c0"/>
<ellipse cx="161.3" cy="458.1" rx="3.0" ry="2.5" fill="#5034f0"/><ellipse cx="161.6" cy="458.4" rx="1.65" ry="1.25" fill="#2c10c0"/>
<ellipse cx="198.9" cy="464.0" rx="2.9" ry="2.4" fill="#5034f0"/><ellipse cx="199.2" cy="464.3" rx="1.59" ry="1.20" fill="#2c10c0"/>
<ellipse cx="196.3" cy="447.6" rx="2.3" ry="2.7" fill="#5034f0"/><ellipse cx="196.6" cy="447.9" rx="1.26" ry="1.35" fill="#2c10c0"/>
<ellipse cx="179.3" cy="447.5" rx="2.4" ry="2.1" fill="#5034f0"/><ellipse cx="179.6" cy="447.8" rx="1.32" ry="1.05" fill="#2c10c0"/>
</g>
<!-- chip -->
<g fill="none" stroke="#000" stroke-linecap="round">
<rect x="151.9" y="502.9" width="38.7" height="37" rx="3.4" stroke-width="2"/>
<rect x="156.8" y="507.8" width="28.4" height="25.9" rx="3" stroke-width="1.8"/>
<path d="M158.7,499.2v2.8M165,499.2v2.8M171.1,499.2v2.8M177.4,499.2v2.8M183.5,499.2v2.8M158.7,541v4M165,541v4M171.1,541v4M177.4,541v4M183.5,541v4M147.6,508.8h3.5M147.6,515.2h3.5M147.6,521.2h3.5M147.6,527h3.5M147.6,532.8h3.5M191.6,508.8h3.5M191.6,515.2h3.5M191.6,521.2h3.5M191.6,527h3.5M191.6,532.8h3.5" stroke-width="1.8"/>
</g>
<g fill="#000"><circle cx="162.8" cy="513.3" r="1.1"/><circle cx="179.7" cy="513.3" r="1.1"/><circle cx="162.8" cy="528.8" r="1.1"/><circle cx="179.7" cy="528.8" r="1.1"/></g>
</svg>

<div class="t b" style="left:-9.0px;top:28.80px">Retinal degeneration</div>
<div class="t b" style="left:-9.0px;top:46.30px">stage in rod &gt; cone</div>
<div class="t b" style="left:-9.0px;top:63.90px">IRDs (e.g. RP)</div>
<div class="t b" style="left:236.5px;top:0.20px">Before onset</div>
<div class="t b" style="left:407.8px;top:0.20px">Early stage 1</div>
<div class="t b" style="left:618.0px;top:0.20px">Early stage 2</div>
<div class="t b" style="left:825.6px;top:0.20px">Profound</div>
<div class="t b" style="left:1015.7px;top:0.20px">End Stage</div>
<div class="t " style="left:236.4px;top:35.20px">Intact rods /cones</div>
<div class="t " style="left:408.3px;top:35.20px">Loss of rods</div>
<div class="t " style="left:617.8px;top:34.80px">Loss of rods and</div>
<div class="t " style="left:617.8px;top:52.20px">peripheral cones</div>
<div class="t " style="left:825.6px;top:34.80px">Pronounced loss</div>
<div class="t " style="left:825.6px;top:52.20px">of photoreceptors</div>
<div class="t " style="left:1015.2px;top:35.20px">No cells in ONL</div>
<div class="t " style="left:236.5px;top:87.80px">No symptoms</div>
<div class="t " style="left:408.4px;top:87.80px">Night blindness</div>
<div class="t " style="left:618.0px;top:87.80px">Visual field constriction</div>
<div class="t " style="left:825.4px;top:87.80px">Tubular vision</div>
<div class="t " style="left:1015.7px;top:87.80px">No light perception</div>
<div class="t " style="left:236.2px;top:123.20px">Normal / abnormal</div>
<div class="t " style="left:236.2px;top:140.60px">scotopic ERG</div>
<div class="t " style="left:408.4px;top:123.20px">Reduced scotopic</div>
<div class="t " style="left:408.4px;top:140.60px">response</div>
<div class="t " style="left:618.2px;top:123.20px">Extinguished scotopic</div>
<div class="t " style="left:618.2px;top:140.60px">Reduced photopic</div>
<div class="t " style="left:825.4px;top:123.20px">Non-detectable</div>
<div class="t " style="left:825.4px;top:140.60px">ERG response</div>
<div class="t " style="left:1015.7px;top:123.20px">Non-detectable</div>
<div class="t " style="left:1015.7px;top:140.60px">ERG response</div>
<div class="t " style="left:-58.4px;top:164.30px">Gene specific</div>
<div class="t " style="left:-58.4px;top:181.50px">therapies</div>
<div class="t " style="left:-58.7px;top:238.00px">DNA editing</div>
<div class="t " style="left:-58.8px;top:306.90px">RNA therapies</div>
<div class="t " style="left:-57.4px;top:358.90px">Translational read</div>
<div class="t " style="left:-57.8px;top:376.10px">through therapies</div>
<div class="t " style="left:-58.4px;top:423.80px">Stem cell based</div>
<div class="t " style="left:-58.4px;top:441.30px">therapies</div>
<div class="t " style="left:-58.6px;top:498.40px">Prostheses and</div>
<div class="t " style="left:-58.6px;top:515.50px">Optogenetics</div>
</body></html>
